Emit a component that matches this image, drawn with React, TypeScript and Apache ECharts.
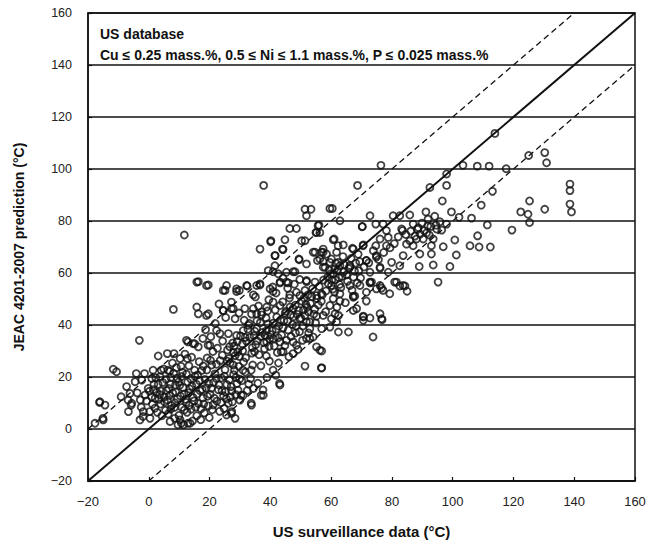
import React, { useEffect, useRef } from "react";
import * as echarts from "echarts";

const xTicks = [-20, 0, 20, 40, 60, 80, 100, 120, 140, 160];
const yTicks = [-20, 0, 20, 40, 60, 80, 100, 120, 140, 160];

const titleLine1 = "US database";
const titleLine2 = "Cu \u2264 0.25 mass.%, 0.5 \u2264 Ni \u2264 1.1 mass.%, P \u2264 0.025 mass.%";
const xName = "US surveillance data (\u00B0C)";
const yName = "JEAC 4201-2007 prediction (\u00B0C)";

const lineEqual = [[-20, -20], [160, 160]];
const lineUpper = [[-20, 0], [140, 160]];
const lineLower = [[0, -20], [160, 140]];

// Points read from the upper and right part of the plot
const pointsUpper = [
  [113.9,113.7],[76.4,101.4],[103.4,101.4],[108.1,101.1],[112,101.1],[117.6,100.1],[125,105.2],[130.3,106.3],[130.9,102.4],[98,98.1],
  [68.7,93.7],[37.8,93.7],[92.5,92.9],[98,93.7],[113.1,91.4],[138.6,94.2],[138.6,91.7],[138.6,86.5],[139.1,83.5],[96.6,87.7],
  [125.3,87.7],[130.3,84.5],[122.4,83.5],[124.8,82.6],[125.3,79.4],[109.4,86.1],[99.6,83.5],[102.1,81.4],[106.2,81.1],[111.4,78.5],
  [119.5,76.5],[108.2,74.3],[105.7,70.5],[108.7,70],[112.4,70],[101.2,66.9],[99.1,62.5],[93.6,63.1],[89,62.5],[93,67.3],
  [96.9,70.1],[100.7,72.7],[95.2,56.5],[91.2,83.5],[95.8,79.7],[91.9,80.7],[98,78.8],[94.7,76.9],[83.2,76.9],[83.5,76.3],
  [85.9,82.3],[80.4,82],[82.6,82],[72.8,82],[77.1,78.8],[70.2,77.8],[87,78.8],[91.4,75.4],[88.1,73.1],[85.9,72.4],
  [84.8,71.1],[87,70.5],[90.3,73.1],[93.6,73.1],[93,70.5],[89.2,67.3],[83.7,66.7],[82.6,62.8],[79.9,64.1],[78.8,60.3],
  [76.1,62.2],[72.8,60.3],[69.1,60.9],[71.6,64.8],[74.9,66.1],[78.2,70.5],[76.1,73.1],[78.8,73.7],[78.2,76.3],[74.7,70.5],
  [70.5,70.5],[67.3,69.2],[62.9,80.1],[60.4,84.8],[51.4,84.5],[53.4,84.5],[51.9,82],[56,78.4],[55.2,75.6],[51.4,72.4],
  [61,73.1],[62.3,70.5],[54.7,68],[57.4,68],[60.1,65.4],[62.9,62.8],[66.2,62.2],[57.4,62.2],[51.9,63.5],[60.7,59.7],
  [72.8,56.5],[69.5,55.2],[76.1,55.2],[81.5,56.5],[83.7,55.2],[51.9,57.1],[54.7,56.5],[59.6,84.8],[11.7,74.6],[56.3,75.6],
  [40.2,72.4],[44,69.2],[50.3,72.4],[41.6,66.7],[49.4,65.4],[40.9,60.5],[42.6,59.7],[47.5,60.5],[44.2,58],[45.9,56.2],
  [16.3,56.7],[25.6,55.2],[28.9,53.9],[32.2,55.2],[57.4,69.2],[56.3,65.4],[58,62.2]
];

const pointsMiddle = [
  [72.8,56.2],[76.6,54.2],[79.3,52],[80.9,56.5],[82.6,55],[84.3,55],[85,53],[67.8,51.1],[71.6,52.6],[71.6,49.2],
  [62.9,49.2],[59.6,47.5],[67.3,45.6],[61.3,44.3],[62.4,43.7],[70.6,43.4],[72.8,42.7],[76.1,44.3],[76.8,42],[70.6,41.8],
  [55.2,43.4],[52.5,45],[51.9,41.2],[56.9,38.6],[62.4,37.3],[65.7,37.3],[73.8,35.4],[53,34.8],[55.2,31.6],[56.9,30],
  [51.4,24.2],[56.9,23.5],[59.6,39.2],[46.4,77.1],[48.6,77.1],[55.7,78.2],[55,75.6],[70.3,77.9],[74.7,78.8],[40.1,72],
  [44.8,72.8],[36.6,69.2],[44.2,69],[41.5,66.7],[49.5,65.1],[54.1,68],[56.8,68],[58.5,67.3],[61.8,68],[64,70.8],
  [60.7,72.8],[67,69.5],[70.6,70.8],[55.5,64.8],[57.4,64.4],[59.6,64.1],[62.3,64.1],[61.2,61.6],[71.6,64.8],[76.1,61.8],
  [74.9,66.7],[41.5,62.8],[39.3,60.9],[45.3,60.3],[48.1,60.5],[49.7,57.5],[51.9,56.7],[43.2,56.2],[45.3,56.5],[35.5,55.2],
  [36.6,55.8],[32.4,55],[29.8,53.3],[24.5,53.3],[34.4,51.6],[39.9,53.9],[40.9,52.9],[46.4,51.6],[48.6,52.6],[49.7,51.3],
  [51.4,53.3],[55.2,51.3],[56.8,52],[60.1,55.2],[60.7,50.1],[62.9,52],[66.2,55.2],[73.3,56.5],[67.3,51.1],[74.9,53.9],
  [77.1,53.3],[15.8,56.5],[19,55.2],[15.8,46.9],[19,43.7],[27.2,48.8],[27.8,46.3],[24.5,45.6],[28.4,42.4],[31.6,46.3],
  [34.4,46.3],[35.5,44.3],[47.5,46.3],[49.7,42.4],[51.4,43.7],[53,41.2],[57.4,43.7],[60.1,42.4],[61.8,41.2],[67.3,50.7],
  [68.4,46.3],[70.6,43.1],[76.6,42.4],[8.1,46],[-3.1,34.1],[-11.7,23],[-10.6,22],[-16.1,10.5],[-14.4,9.2],[-17.7,2.2],
  [-15,3.5],[3.1,28.1],[6.1,29],[8.3,29],[10.3,27.1],[12.7,27.1],[-7.3,16.3],[-4.5,18.2],[-2.3,18.8],[1,19.4],
  [3.7,20.1],[-6.2,13.7],[-5.6,9.9],[-6.7,6.7],[-1.8,6.7],[-2.9,3.5],[0.4,4.1],[7,2.9],[10.3,3.5],[11.4,1.6],
  [13.6,2.2],[25.6,5.4],[28.4,4.1],[27.3,6.7],[33.8,9.2],[31.1,13],[34.4,15.6],[37.7,13],[43.2,16.9],[30,11.1],
  [19.6,55.4],[25.1,53.3],[28.9,52.9],[36.6,55.4],[40.8,54.6],[43.2,56.5],[16.3,44.3],[19.6,44.3],[24.5,45.6],[27.2,46.3],
  [37.1,45],[38.8,46.9],[40.9,48.8],[43.2,47.5],[12.4,34.1],[14.6,32.8],[16.3,31.6],[20.1,32.2],[22.3,37.9],[23.4,36.7],
  [26.2,36.7],[28.9,36],[31.1,37.9],[32.8,39.9],[35.5,38.6],[38.3,36],[41,34.8],[38.8,33.5],[43.2,33.5],[45.3,34.1],
  [47.5,33.5],[48.6,32.2],[47.5,29],[44.2,29.7],[51.9,34.8],[54.1,35.4],[53,38.6],[56.3,30.3],[56.8,23.5],[-4.1,21.3],
  [-1.4,21.3],[1.4,22.6],[4.1,22.6],[6.3,22.6],[-16.2,10.2],[-15.1,4.1],[-9.1,12.4],[-6.8,11.1],[-5.8,9.2],[-1.9,4.8],
  [0.3,6.7],[2,8],[8.5,4.1],[10.7,2.2],[12.9,2.2],[9.6,1.6],[30.4,13],[33.7,9.9],[37,13],[37.6,15],
  [43,17.5],[27.2,6],[43.6,29.7],[38.7,28.1],[34.8,29.7],[40.9,22.6],[33.7,22.6],[31,22.6],[28.2,22.6],[12.9,33.5],
  [15.1,32.8],[17.8,34.8],[19.5,32.2]
];

// Points of the dense core, estimated from the dark clusters
const pointsDense = [
  [5.2,10.4],[6.8,12.9],[7.5,9.1],[8.9,14.2],[9.4,11.6],[10.2,16.8],[10.9,8.3],[11.6,13.5],[12.3,10.2],[12.8,18.1],
  [13.5,15.4],[13.9,7.6],[14.6,12.1],[15.2,20.3],[15.7,17.2],[16.3,9.8],[16.9,14.7],[17.4,22.5],[17.8,11.9],[18.5,19.1],
  [18.9,15.8],[19.6,8.9],[20.2,13.3],[20.7,24.6],[21.3,17.9],[21.8,21.2],[22.4,10.7],[22.9,15.1],[23.5,26.3],[23.9,19.6],
  [24.6,12.8],[25.1,22.8],[25.7,17.1],[26.2,9.9],[26.8,25.4],[27.3,14.6],[27.9,20.9],[28.4,28.2],[29,17.5],[29.6,24.1],
  [9.3,19.5],[11.1,21.8],[13.2,24.3],[7.1,17.3],[5.8,14.8],[4.6,17.9],[8.2,21.4],[14.1,27.6],[16.6,25.9],[19.2,27.3],
  [21.1,29.8],[6.4,5.8],[9.9,5.2],[12.6,6.4],[15.8,5.1],[18.3,6.2],[20.9,7.4],[23.3,6.8],[17.1,3.6],[14.4,3.1],
  [19.9,4.4],[-2.5,8.4],[-0.7,10.8],[0.9,12.3],[2.6,14.1],[3.9,9.6],[1.7,17.2],[-3.8,13.9],[-0.2,15.6],[2.3,19.7],
  [4.9,23.1],[7.8,25.4],[10.6,24.1],[3.3,11.4],[5.5,7.2],[11.9,28.8],[25.9,30.4],[27.6,33.1],[29.3,29.6],[30.8,32.7],
  [31.9,27.4],[33.2,35.2],[34.1,31.3],[35.6,33.9],[36.3,28.6],[37.4,37.1],[38.1,30.9],[39.2,40.4],[39.8,34.6],[40.6,37.8],
  [41.3,31.9],[42.1,43.1],[42.8,39.6],[43.7,36.2],[44.5,41.7],[45.2,45.3],[45.9,38.1],[46.7,43.9],[47.3,40.2],[48.2,47.6],
  [48.8,44.1],[49.6,37.4],[50.3,49.2],[50.9,45.8],[51.7,47.9],[52.4,51.6],[53.2,48.3],[53.9,53.9],[54.6,46.1],[55.3,50.2],
  [56.1,54.8],[56.8,49.1],[57.5,57.3],[58.3,53.1],[59.1,55.9],[59.8,59.6],[60.6,53.8],[61.4,57.4],[62.1,60.9],[62.8,55.6],
  [63.6,58.7],[64.3,63.2],[65.1,59.3],[65.8,61.7],[66.6,65.6],[67.4,58.4],[68.1,63.8],[68.9,67.2],[44.1,48.9],[46.3,50.4],
  [41.6,45.8],[38.6,42.7],[36.7,40.9],[34.9,37.6],[32.6,38.4],[30.2,35.8],[28.1,31.9],[26.4,27.1],[31.4,41.8],[33.8,44.2],
  [36.1,47.3],[39.5,49.7],[24.3,33.8],[22.6,31.1],[20.4,35.5],[18.7,38.2],[21.9,40.6],[25.3,42.9],[23.1,48.1],[29.7,44.6],
  [35.1,50.8],[41.9,52.3],[45.7,54.1],[47.9,55.7],[42.7,25.4],[46.1,27.8],[49.1,30.6],[52.6,36.9],[50.7,39.6],[54.9,40.8],
  [58.2,45.1],[61.9,46.8],[64.7,48.6],[66.9,53.4],[69.7,58.1],[70.8,62.3],[72.4,63.9],[73.9,68.6],[75.6,65.2],[77.3,67.9],
  [79.4,69.7],[80.8,71.3],[82.1,73.9],[84.6,74.8],[86.2,76.1],[88.7,77.4],[89.9,79.2],[92.8,77.9],[94.1,81.8],[96.4,76.5],
  [36.9,24.3],[39.7,26.1],[33.5,19.4],[35.9,17.6],[38.9,19.8],[41.8,20.7],[29.9,19.2],[32.4,14.8],[27.5,10.4],[24.8,7.9]
];

// Further points of the darkest clusters
const pointsDense2 = [
  [6.1,11.2],[7.9,13.8],[8.6,10.1],[10.4,12.7],[11.3,15.9],[12.1,11.4],[13.1,13.9],[14.2,16.5],[14.9,10.8],[15.9,13.4],
  [16.7,18.6],[17.6,15.2],[18.1,9.6],[19.3,12.6],[19.8,17.4],[20.6,15.7],[21.6,11.8],[22.2,19.4],[23.1,16.9],[24.1,14.7],
  [24.9,20.3],[25.5,11.6],[26.5,18.9],[27.1,16.3],[28.7,19.8],[29.4,14.9],[30.6,18.6],[31.8,21.9],[32.9,17.2],[34.2,24.6],
  [4.1,14.6],[5.1,12.3],[6.6,15.6],[7.3,19.8],[8.8,16.9],[9.8,18.1],[10.8,20.2],[12.4,21.1],[13.8,19.3],[15.1,22.6],
  [16.1,20.8],[17.9,24.2],[19.1,22.7],[20.3,26.4],[22.3,24.9],[24.2,28.4],[25.8,26.1],[27.8,24.6],[29.8,27.9],[31.2,25.8],
  [1.2,9.5],[2.1,11.8],[3.6,13.2],[-1.2,13.1],[-2.8,11.2],[0.2,14.5],[1.5,15.1],[3.1,17.2],[5.7,19.1],[6.9,22.2],
  [9.1,23.6],[2.8,6.4],[4.3,5.1],[7.2,7.6],[8.4,8.3],[11.7,7.3],[13.3,9.1],[15.4,8.4],[17.2,7.8],[21.2,9.3],
  [23.8,10.1],[25.2,14.3],[26.9,12.3],[28.6,13.2],[30.9,30.1],[32.1,33.8],[33.9,29.2],[35.2,32.4],[36.8,35.6],[37.9,33.2],
  [38.8,37.9],[40.1,36.3],[40.9,40.7],[41.9,38.4],[42.6,35.1],[43.4,41.9],[44.2,38.9],[44.9,44.6],[45.7,41.4],[46.5,46.9],
  [47.6,43.2],[48.5,39.6],[49.3,45.6],[50.1,42.6],[51.1,50.4],[52.1,46.8],[53.6,50.9],[54.3,44.2],[55.8,47.7],[37.1,43.9],
  [39.1,45.4],[35.6,41.6],[33.1,40.6],[34.6,35.9],[31.7,35.2],[29.1,33.6],[27.9,29.4],[26.6,31.7],[39.6,31.8],[42.3,29.4],
  [44.8,32.1],[46.8,35.6],[48.3,36.9],[50.6,34.1],[57.1,51.6],[58.9,58.4],[60.2,57.1],[61.1,52.7],[62.6,58.2],[63.2,54.4],
  [64.1,60.4],[65.4,56.8],[66.2,62.9],[67.7,60.7],[68.6,56.2],[69.4,64.4],[63.9,66.3],[61.6,63.7],[59.4,61.1],[87.6,74.2],
  [88.4,76.8],[89.3,74.9],[90.6,76.3],[91.8,78.1],[92.3,74.6],[94.5,78.4]
];

const allPoints = [...pointsUpper, ...pointsMiddle, ...pointsDense, ...pointsDense2];

const FONT = "'Liberation Sans', Arial, sans-serif";
const fmt = (v: number) => (v < 0 ? "\u2212" + Math.abs(v) : String(v));

export default function App() {
  const ref = useRef<HTMLDivElement>(null);
  useEffect(() => {
    if (!ref.current) return;
    const chart = echarts.init(ref.current, null, { renderer: "svg" });
    const axisCommon = {
      type: "value",
      interval: 20,
      axisLine: { show: true, onZero: false, lineStyle: { color: "#111", width: 1.5 } },
      axisTick: { show: true, inside: true, length: 4, lineStyle: { color: "#111", width: 1.2 } },
    };
    chart.setOption({
      animation: false,
      backgroundColor: "#fff",
      grid: {
        left: 88,
        top: 13,
        width: 547,
        height: 470,
        show: true,
        borderColor: "#111",
        borderWidth: 1.5,
        backgroundColor: "transparent",
      },
      xAxis: {
        ...axisCommon,
        min: xTicks[0],
        max: xTicks[xTicks.length - 1],
        splitLine: { show: false },
        axisLabel: { color: "#222", fontSize: 13, fontFamily: FONT, margin: 14, formatter: fmt },
        name: xName,
        nameLocation: "middle",
        nameGap: 43,
        nameTextStyle: { color: "#111", fontSize: 15, fontWeight: "bold", fontFamily: FONT },
      },
      yAxis: {
        ...axisCommon,
        min: yTicks[0],
        max: yTicks[yTicks.length - 1],
        splitLine: { show: true, lineStyle: { color: "#111", width: 1.5 } },
        axisLabel: { color: "#222", fontSize: 12.5, fontFamily: FONT, margin: 16, formatter: fmt },
        name: yName,
        nameLocation: "middle",
        nameGap: 62,
        nameTextStyle: { color: "#111", fontSize: 14, fontWeight: "bold", fontFamily: FONT },
      },
      graphic: [
        {
          type: "text",
          left: 100,
          top: 27,
          style: { text: titleLine1, fill: "#111", font: `bold 14px ${FONT}` },
        },
        {
          type: "text",
          left: 100,
          top: 48,
          style: { text: titleLine2, fill: "#111", font: `bold 14px ${FONT}` },
        },
      ],
      series: [
        {
          type: "line",
          data: lineEqual,
          symbol: "none",
          lineStyle: { color: "#111", width: 2 },
          z: 3,
        },
        {
          type: "line",
          data: lineUpper,
          symbol: "none",
          lineStyle: { color: "#111", width: 1.3, type: [6, 4] },
          z: 3,
        },
        {
          type: "line",
          data: lineLower,
          symbol: "none",
          lineStyle: { color: "#111", width: 1.3, type: [6, 4] },
          z: 3,
        },
        {
          type: "scatter",
          data: allPoints,
          symbol: "circle",
          symbolSize: 7,
          itemStyle: { color: "rgba(0,0,0,0)", borderColor: "#111", borderWidth: 1.8 },
          z: 4,
        },
      ],
    });
    return () => chart.dispose();
  }, []);
  return (
    <div
      ref={ref}
      style={{ position: "fixed", left: 0, top: 0, width: 656, height: 544, background: "#fff" }}
    />
  );
}
